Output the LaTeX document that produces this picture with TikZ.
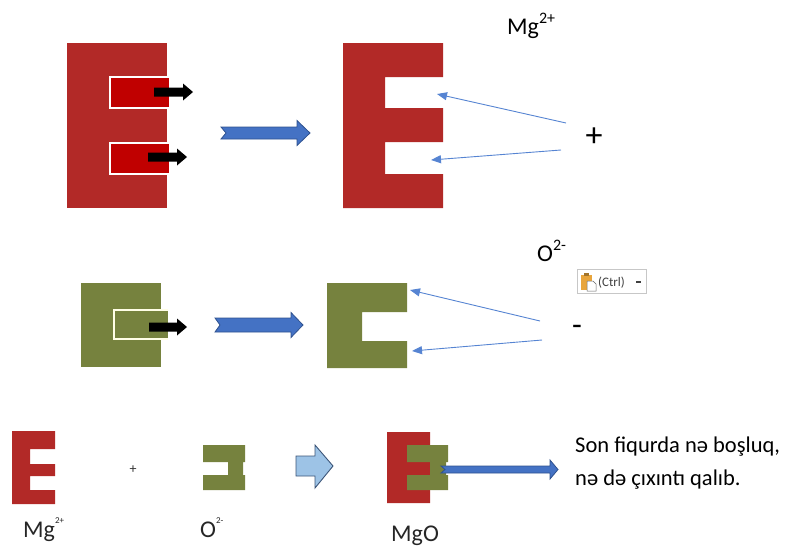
\documentclass[tikz,border=0pt]{standalone}
\usepackage{fontspec}
\setmainfont{Carlito}
\usetikzlibrary{arrows.meta}
\definecolor{ered}{RGB}{178,41,39}
\definecolor{slotred}{RGB}{192,0,0}
\definecolor{olive}{RGB}{118,130,62}
\definecolor{bluefill}{RGB}{68,114,196}
\definecolor{blueline}{RGB}{47,82,143}
\definecolor{skyfill}{RGB}{157,195,230}
\definecolor{skyline}{RGB}{60,85,120}
\definecolor{thinblue}{RGB}{86,132,210}
\definecolor{clipor}{RGB}{232,165,60}
\begin{document}
\begin{tikzpicture}[x=1pt,y=-1pt,
  lbl/.style={inner sep=0pt,anchor=base west},
  pointer/.style={thinblue,line width=0.9pt,-{Triangle[length=10pt,width=8pt]}},
  bigarrow/.style={fill=bluefill,draw=blueline,line width=0.8pt,line join=miter},
  blackarrow/.style={fill=black,draw=none},
  slotedge/.style={draw=white,line width=1.1pt}]
\useasboundingbox (0,0) rectangle (791,555);

% ---------- Row 1: Mg atom giving away its two electrons ----------
\fill[ered] (67,43) rectangle (167,208);
\fill[slotred] (110,77) rectangle (169,108);
\fill[slotred] (110,143) rectangle (169,174);
\draw[slotedge] (169,77) -- (110,77) -- (110,108) -- (169,108);
\draw[slotedge] (169,143) -- (110,143) -- (110,174) -- (169,174);
\fill[blackarrow] (154,87.5) -- (183,87.5) -- (183,83.5) -- (193,92) -- (183,100.5) -- (183,96.5) -- (154,96.5) -- cycle;
\fill[blackarrow] (148,152.5) -- (177,152.5) -- (177,148.5) -- (187,157) -- (177,165.5) -- (177,161.5) -- (148,161.5) -- cycle;

\draw[bigarrow] (221,127) -- (297,127) -- (297,120.5) -- (310,133) -- (297,145.5) -- (297,139) -- (221,139) -- (226,133) -- cycle;

% Mg2+ ion with two empty slots
\fill[ered] (343,43) -- (443,43) -- (443,77) -- (385,77) -- (385,108) -- (443,108)
  -- (443,142) -- (385,142) -- (385,174) -- (443,174) -- (443,208) -- (343,208) -- cycle;

\node[lbl,font=\fontsize{24}{27}\selectfont] (mgtop) at (507,34) {Mg\raisebox{0.42em}{\fontsize{16}{18}\selectfont 2+}};
\node[inner sep=0pt,font=\fontsize{34}{38}\selectfont] (plus) at (594,137) {+};
\coordinate (p1) at (566,123);
\coordinate (p2) at (561,150);
\coordinate (e1) at (437,94);
\coordinate (e2) at (431,160);
\draw[pointer] (p1) -- (e1);
\draw[pointer] (p2) -- (e2);

% ---------- Row 2: O atom taking two electrons ----------
\fill[olive] (81,283) rectangle (161,367);
\fill[olive] (114,310) rectangle (168,339);
\draw[draw=white!90!yellow,line width=1.4pt] (168,310) -- (114,310) -- (114,339) -- (168,339);
\fill[blackarrow] (149,322.5) -- (177,322.5) -- (177,318.5) -- (187,327) -- (177,335.5) -- (177,331.5) -- (149,331.5) -- cycle;

\draw[bigarrow] (215,318) -- (291,318) -- (291,312.5) -- (303,325) -- (291,337.5) -- (291,332) -- (215,332) -- (220,325) -- cycle;

\fill[olive] (327,283) -- (407,283) -- (407,312) -- (362,312) -- (362,341) -- (407,341)
  -- (407,368) -- (327,368) -- cycle;

\node[lbl,font=\fontsize{24}{27}\selectfont] (otop) at (537,261) {O\raisebox{0.42em}{\fontsize{16}{18}\selectfont 2-}};
\node[inner sep=0pt,font=\fontsize{32}{36}\selectfont] (minus) at (577,330) {-};
\coordinate (m1) at (540,321);
\coordinate (m2) at (542,340);
\coordinate (c1) at (410,290);
\coordinate (c2) at (412,351);
\draw[pointer] (m1) -- (c1);
\draw[pointer] (m2) -- (c2);

% paste options button
\draw[black!22,fill=white,line width=0.8pt] (577,269) rectangle (646,293);
\fill[clipor] (581,275) rectangle (592,290);
\fill[clipor!70!black] (584,273) rectangle (589,276);
\draw[black!60,fill=white,line width=0.5pt] (587,281) -- (593,281) -- (596,284) -- (596,291) -- (587,291) -- cycle;
\node[lbl,font=\fontsize{13}{15}\selectfont,text=black!75] (ctrl) at (598,286) {(Ctrl)};
\fill[black!75] (635.5,281) rectangle (640.5,282.5);

% ---------- Row 3: Mg2+ + O2- -> MgO ----------
\fill[ered] (12,431) -- (55,431) -- (55,449) -- (30,449) -- (30,464) -- (55,464)
  -- (55,476) -- (30,476) -- (30,490) -- (55,490) -- (55,504) -- (12,504) -- cycle;
\node[inner sep=0pt,font=\fontsize{14}{16}\selectfont,text=black!80] (plussmall) at (133,470) {+};
\fill[olive] (203,445) -- (245,445) -- (245,462) -- (243,462) -- (243,475) -- (245,475)
  -- (245,490) -- (203,490) -- (203,475) -- (228,475) -- (228,462) -- (203,462) -- cycle;
\draw[fill=skyfill,draw=skyline,line width=0.9pt,line join=miter]
  (296,456) -- (315,456) -- (315,445) -- (333,466) -- (315,488) -- (315,476) -- (296,476) -- cycle;

% MgO: the two pieces fitted together
\fill[ered] (387,432) -- (430,432) -- (430,445) -- (407,445) -- (407,462) -- (430,462)
  -- (430,475) -- (407,475) -- (407,490) -- (430,490) -- (430,503) -- (387,503) -- cycle;
\fill[olive] (407,445) -- (448,445) -- (448,462) -- (446,462) -- (446,475) -- (448,475)
  -- (448,490) -- (407,490) -- (407,475) -- (430,475) -- (430,462) -- (407,462) -- cycle;
\draw[bigarrow] (441,466) -- (550,466) -- (550,460) -- (558,469.5) -- (550,479) -- (550,473) -- (441,473) -- (445,469.5) -- cycle;

\node[lbl,font=\fontsize{22.5}{26}\selectfont] (note1) at (575,452) {Son fiqurda nə boşluq,};
\node[lbl,font=\fontsize{22.5}{26}\selectfont] (note2) at (575,485) {nə də çıxıntı qalıb.};

\node[lbl,font=\fontsize{24}{28}\selectfont,text=black!85] (mgb) at (23,537) {Mg\raisebox{0.55em}{\fontsize{9}{10}\selectfont 2+}};
\node[lbl,font=\fontsize{24}{28}\selectfont,text=black!85] (ob) at (200,537) {O\raisebox{0.55em}{\fontsize{9}{10}\selectfont 2-}};
\node[lbl,font=\fontsize{24}{28}\selectfont,text=black!85] (mgo) at (391,541) {MgO};
\end{tikzpicture}
\end{document}
